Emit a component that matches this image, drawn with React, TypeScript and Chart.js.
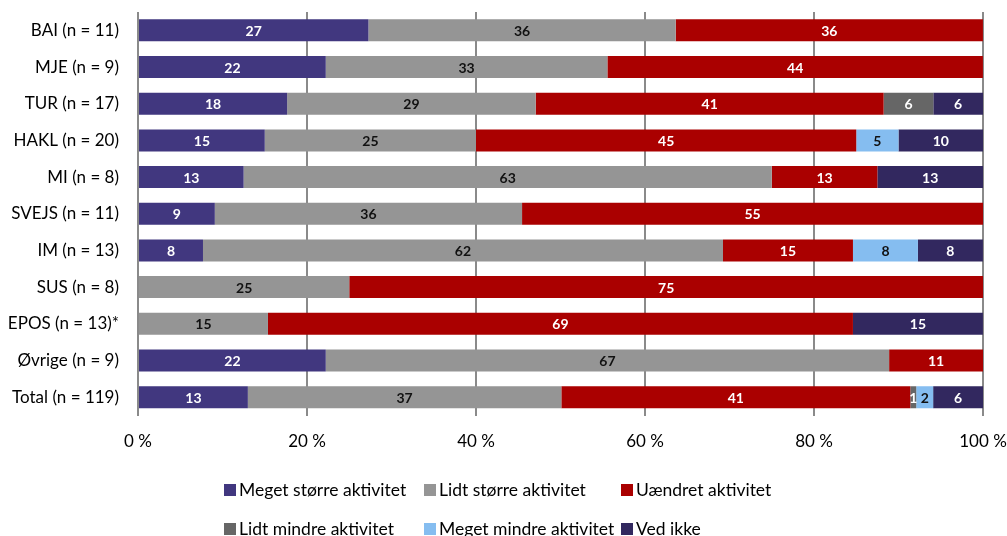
import React, { useEffect, useRef } from 'react';
import { Chart, registerables } from 'chart.js';

Chart.register(...registerables);

const categories = [
  'BAI (n = 11)',
  'MJE (n = 9)',
  'TUR (n = 17)',
  'HAKL (n = 20)',
  'MI (n = 8)',
  'SVEJS (n = 11)',
  'IM (n = 13)',
  'SUS (n = 8)',
  'EPOS (n = 13)*',
  'Øvrige (n = 9)',
  'Total (n = 119)',
];

const seriesNames = [
  'Meget større aktivitet',
  'Lidt større aktivitet',
  'Uændret aktivitet',
  'Lidt mindre aktivitet',
  'Meget mindre aktivitet',
  'Ved ikke',
];

const megetStorre = [27.27, 22.22, 17.65, 15, 12.5, 9.09, 7.69, 0, 0, 22.22, 13.0];
const lidtStorre = [36.36, 33.33, 29.41, 25, 62.5, 36.36, 61.54, 25, 15.38, 66.67, 37.1];
const uaendret = [36.36, 44.44, 41.18, 45, 12.5, 54.55, 15.38, 75, 69.23, 11.11, 41.3];
const lidtMindre = [0, 0, 5.88, 0, 0, 0, 0, 0, 0, 0, 0.7];
const megetMindre = [0, 0, 0, 5, 0, 0, 7.69, 0, 0, 0, 2.0];
const vedIkke = [0, 0, 5.88, 10, 12.5, 0, 7.69, 0, 15.38, 0, 5.9];

const xTickValues = [0, 20, 40, 60, 80, 100];

const seriesColors = ['#41377f', '#959595', '#aa0000', '#666666', '#85bdf0', '#32285f'];
const labelColors = ['#ffffff', '#111111', '#ffffff', '#ffffff', '#111111', '#ffffff'];

const FONT = 'Lato, "Noto Sans", sans-serif';

const barLabelPlugin = {
  id: 'barLabels',
  afterDatasetsDraw(chart: any) {
    const ctx = chart.ctx;
    ctx.save();
    ctx.font = `bold 14px ${FONT}`;
    ctx.textAlign = 'center';
    ctx.textBaseline = 'middle';
    chart.data.datasets.forEach((ds: any, di: number) => {
      const meta = chart.getDatasetMeta(di);
      meta.data.forEach((el: any, i: number) => {
        const v = ds.data[i];
        if (!v || v <= 0) return;
        const p = el.getCenterPoint();
        ctx.fillStyle = labelColors[di];
        ctx.fillText(String(Math.round(v)), p.x, p.y + 1);
      });
    });
    ctx.restore();
  },
};

const gridLegendPlugin = {
  id: 'gridLegend',
  afterDraw(chart: any) {
    const ctx = chart.ctx;
    const cols = [224, 424, 621];
    const rows = [490, 529];
    ctx.save();
    ctx.font = `17.5px ${FONT}`;
    ctx.textAlign = 'left';
    ctx.textBaseline = 'middle';
    seriesNames.forEach((name, i) => {
      const x = cols[i % 3];
      const y = rows[Math.floor(i / 3)];
      ctx.fillStyle = seriesColors[i];
      ctx.fillRect(x, y - 6, 12, 12);
      ctx.fillStyle = '#000000';
      ctx.fillText(name, x + 15, y);
    });
    ctx.restore();
  },
};

export default function App() {
  const ref = useRef<HTMLCanvasElement | null>(null);

  useEffect(() => {
    document.body.style.margin = '0';
    if (!ref.current) return;
    const seriesData = [megetStorre, lidtStorre, uaendret, lidtMindre, megetMindre, vedIkke];
    const chart = new Chart(ref.current, {
      type: 'bar',
      data: {
        labels: categories,
        datasets: seriesNames.map((name, i) => ({
          label: name,
          data: seriesData[i],
          backgroundColor: seriesColors[i],
          borderWidth: 0,
          barPercentage: 0.6,
          categoryPercentage: 1,
        })),
      },
      options: {
        indexAxis: 'y',
        responsive: false,
        animation: false,
        layout: { padding: { top: 12, right: 24, left: 0, bottom: 80.5 } },
        plugins: {
          legend: { display: false },
          tooltip: { enabled: false },
          title: { display: false },
        },
        scales: {
          x: {
            stacked: true,
            min: 0,
            max: 100,
            afterBuildTicks(scale: any) {
              scale.ticks = xTickValues.map((v) => ({ value: v }));
            },
            afterFit(scale: any) {
              scale.height = 40;
              scale.paddingLeft = 0;
              scale.paddingRight = 0;
            },
            grid: {
              display: true,
              color: '#8a8a8a',
              lineWidth: 2,
              drawTicks: false,
            },
            border: { display: false },
            ticks: {
              padding: 16,
              color: '#000000',
              font: { family: FONT, size: 17 },
              callback: (v: any) => `${v} %`,
            },
          },
          y: {
            stacked: true,
            afterFit(scale: any) {
              scale.width = 138;
              scale.paddingTop = 0;
              scale.paddingBottom = 0;
            },
            grid: { display: false, drawTicks: false },
            border: { display: false },
            ticks: {
              padding: 19,
              color: '#000000',
              font: { family: FONT, size: 17 },
            },
          },
        },
      },
      plugins: [barLabelPlugin, gridLegendPlugin],
    });
    return () => chart.destroy();
  }, []);

  return (
    <div style={{ width: 1007, height: 536 }}>
      <canvas ref={ref} width={1007} height={536} />
    </div>
  );
}
